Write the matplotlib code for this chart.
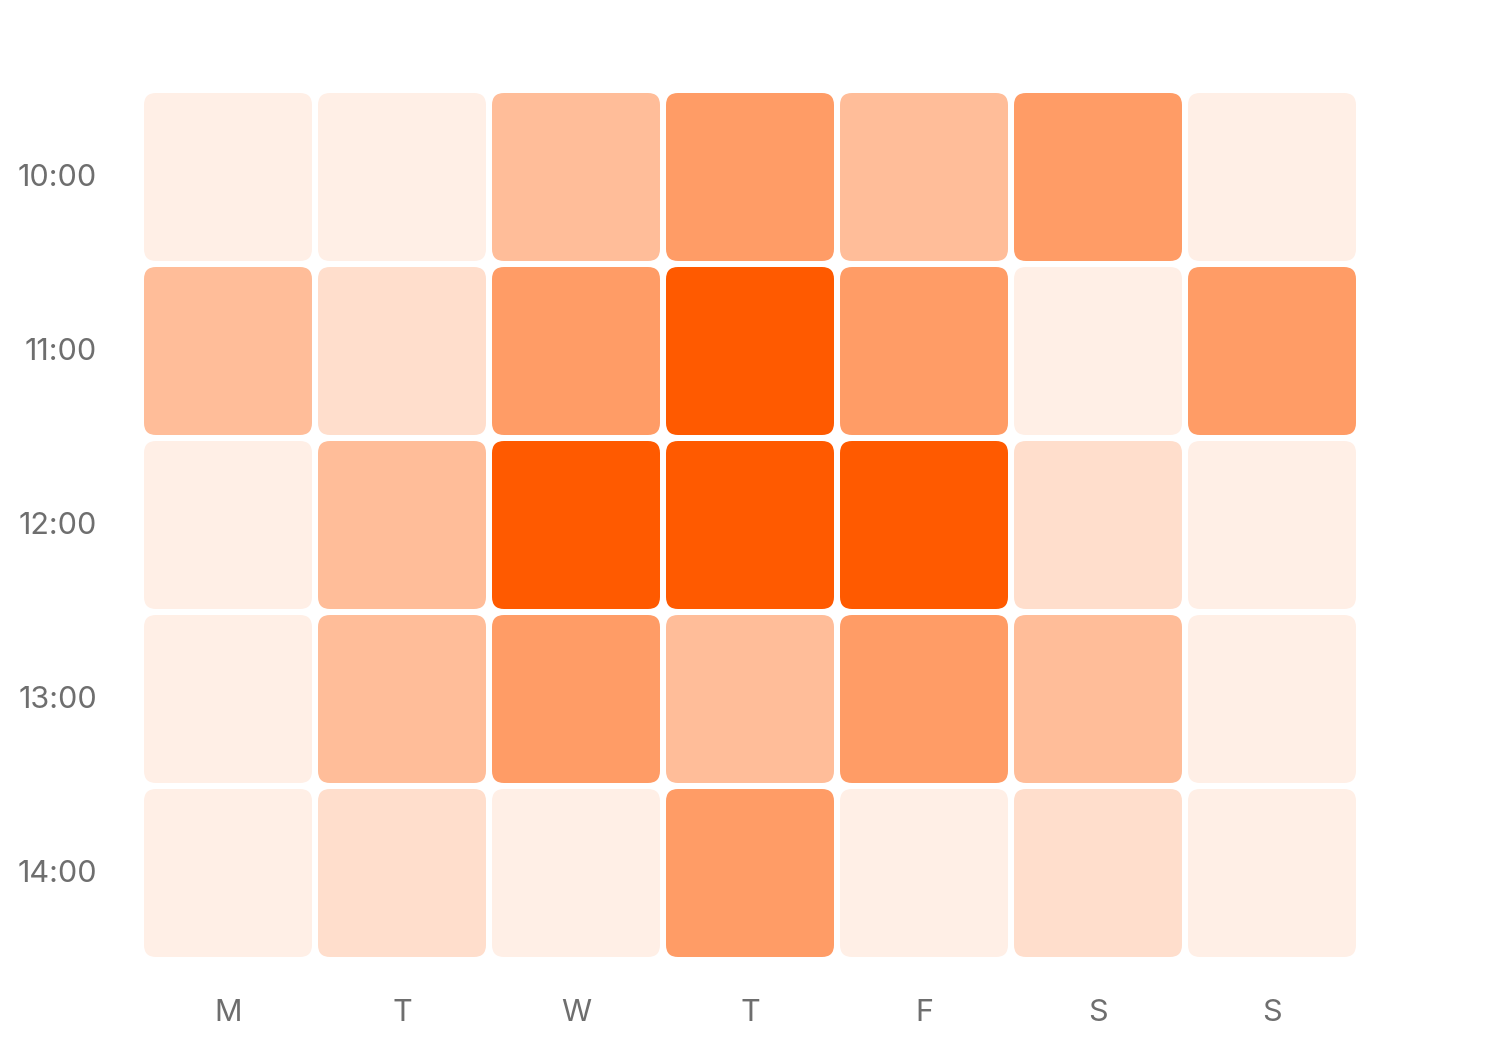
import matplotlib
matplotlib.use("Agg")
import matplotlib.pyplot as plt
from matplotlib.patches import FancyBboxPatch

days = ["M", "T", "W", "T", "F", "S", "S"]
hours = ["10:00", "11:00", "12:00", "13:00", "14:00"]
# intensity levels per row (hour) and column (day)
levels = [
    [0, 0, 2, 3, 2, 3, 0],
    [2, 1, 3, 4, 3, 0, 3],
    [0, 2, 4, 4, 4, 1, 0],
    [0, 2, 3, 2, 3, 2, 0],
    [0, 1, 0, 3, 0, 1, 0],
]
level_alpha = [0.1, 0.2, 0.4, 0.6, 1.0]
base = (1.0, 90 / 255, 0.0)

def blend(a):
    return tuple(1 - a * (1 - c) for c in base)

plt.rcParams['font.family'] = ['Inter', 'DejaVu Sans']
fig = plt.figure(figsize=(15, 10.5), dpi=100)
ax = fig.add_axes([141 / 1500, 1 - 960 / 1050, 1218 / 1500, 870 / 1050])
ax.set_xlim(0, len(days))
ax.set_ylim(len(hours), 0)

inset = 3 / 174
rad = 12 / 174
for r, row in enumerate(levels):
    for c, lv in enumerate(row):
        p = FancyBboxPatch((c + inset, r + inset), 1 - 2 * inset, 1 - 2 * inset,
                           boxstyle=f"round,pad=0,rounding_size={rad}",
                           facecolor=blend(level_alpha[lv]), edgecolor='none')
        ax.add_patch(p)

for s in ax.spines.values():
    s.set_visible(False)
ax.set_xticks([i + 0.5 for i in range(len(days))])
ax.set_xticklabels(days)
ax.set_yticks([i + 0.5 - 0.012 for i in range(len(hours))])
ax.set_yticklabels(hours)
ax.tick_params(axis='x', length=0, pad=28, labelsize=22, labelcolor='#6E6E6E')
ax.tick_params(axis='y', length=0, pad=31.5, labelsize=22, labelcolor='#6E6E6E')

fig.savefig("out.png", dpi=100, facecolor='white')
